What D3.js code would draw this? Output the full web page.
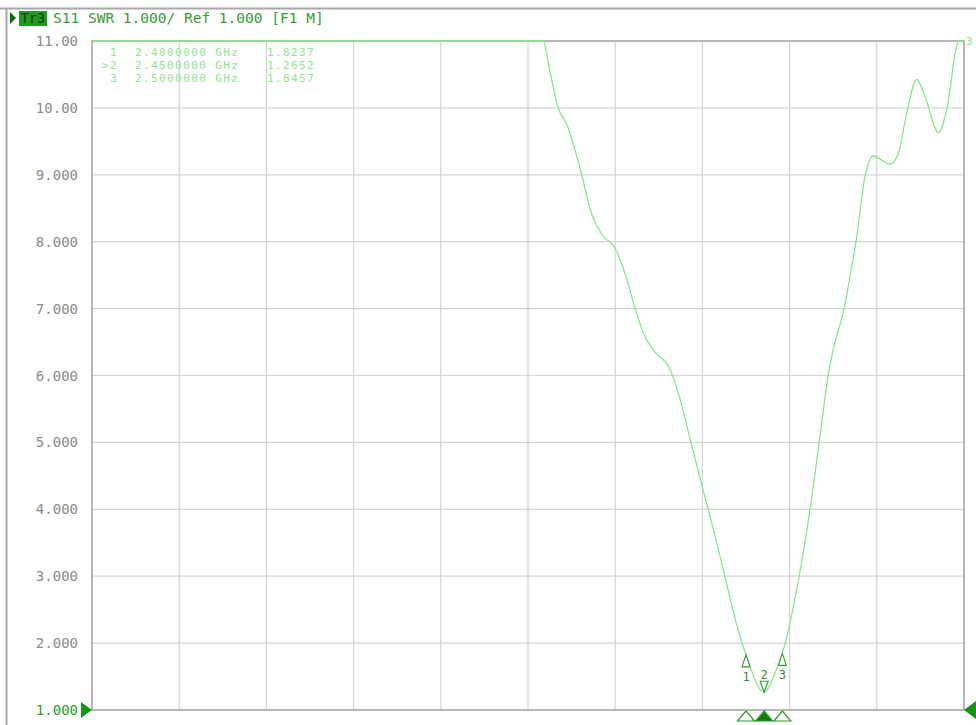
<!DOCTYPE html>
<html><head><meta charset="utf-8">
<script src="https://cdn.jsdelivr.net/npm/d3@7/dist/d3.min.js"></script>
<style>html,body{margin:0;padding:0;background:#fff;}svg{display:block;}</style>
</head><body>
<svg id="c" width="976" height="725"></svg>
<script>
// ---- data ----
const freqGHz = [0.6, 1.0, 1.5, 1.8413, 1.8606, 1.8826, 1.9073, 1.9431, 1.9762, 2.0037, 2.0395, 2.0725, 2.0945, 2.1174, 2.1449, 2.1917, 2.2192, 2.2468, 2.2798, 2.3156, 2.3422, 2.3761, 2.4, 2.45, 2.4798, 2.5, 2.5459, 2.5762, 2.6014, 2.6262, 2.6367, 2.6697, 2.6863, 2.7028, 2.7275, 2.7504, 2.7963, 2.8193, 2.8423, 2.8698, 2.8927, 2.9293, 2.9523, 2.9843, 2.99, 3.0];
const swr     = [11, 11, 11, 11, 10.54, 10.01, 9.744, 9.102, 8.399, 8.10, 7.906, 7.427, 7.009, 6.635, 6.381, 6.082, 5.634, 5.036, 4.333, 3.586, 2.988, 2.241, 1.8237, 1.2652, 1.553, 1.8457, 2.988, 4.0, 5.0, 6.0, 6.306, 7.0, 7.48, 8.0, 8.972, 9.281, 9.161, 9.32, 9.919, 10.427, 10.17, 9.63, 9.969, 10.99, 11, 11];
const yTicks = [11, 10, 9, 8, 7, 6, 5, 4, 3, 2, 1];
const yTickLabels = ["11.00", "10.00", "9.000", "8.000", "7.000", "6.000", "5.000", "4.000", "3.000", "2.000", "1.000"];
const markerIds = ["1", ">2", "3"];
const markerFreq = [2.40, 2.45, 2.50];
const markerFreqLabels = ["2.4000000 GHz", "2.4500000 GHz", "2.5000000 GHz"];
const markerSwr = [1.8237, 1.2652, 1.8457];
const markerSwrLabels = ["1.8237", "1.2652", "1.8457"];
const titleText = "S11 SWR 1.000/ Ref 1.000 [F1 M]";
const xStart = 0.6, xStop = 3.0, xDivisions = 10;

// ---- layout ----
const L = 92, R = 964, T = 41, B = 710;
const svg = d3.select("#c");
const x = d3.scaleLinear().domain([xStart, xStop]).range([L, R]);
const y = d3.scaleLinear().domain([1, 11]).range([B, T]);
const mono = "'DejaVu Sans Mono', 'Liberation Mono', monospace";

// outer frame
svg.append("line").attr("x1", 0).attr("x2", 976).attr("y1", 8.5).attr("y2", 8.5).attr("stroke", "#a8a8a8").attr("stroke-width", 2);
svg.append("line").attr("x1", 6.5).attr("x2", 6.5).attr("y1", 8).attr("y2", 725).attr("stroke", "#a8a8a8").attr("stroke-width", 2);

// title
svg.append("path").attr("d", "M10,12 L16,18 L10,24 Z").attr("fill", "#0b6b0b");
svg.append("rect").attr("x", 19).attr("y", 11).attr("width", 28).attr("height", 15).attr("fill", "#1f9a1f");
svg.append("text").attr("x", 33).attr("y", 23).attr("text-anchor", "middle").attr("font-family", mono).attr("font-size", 13.5).attr("fill", "#0a3f0a").text("Tr3");
svg.append("text").attr("x", 53).attr("y", 23).attr("font-family", mono).attr("font-size", 14.5).attr("fill", "#3a9a3a").text(titleText);

// grid
const xGrid = d3.range(1, xDivisions).map(i => xStart + i * (xStop - xStart) / xDivisions);
svg.append("g").selectAll("line").data(xGrid).join("line")
  .attr("x1", d => x(d)).attr("x2", d => x(d)).attr("y1", T).attr("y2", B)
  .attr("stroke", "#d4d4d4").attr("stroke-width", 1.2);
svg.append("g").selectAll("line").data(yTicks.slice(1, -1)).join("line")
  .attr("x1", L).attr("x2", R).attr("y1", d => y(d)).attr("y2", d => y(d))
  .attr("stroke", "#d4d4d4").attr("stroke-width", 1.2);

// plot frame
svg.append("rect").attr("x", L).attr("y", T).attr("width", R - L).attr("height", B - T)
  .attr("fill", "none").attr("stroke", "#a0a0a0").attr("stroke-width", 1.5);

// y labels
svg.append("g").selectAll("text").data(yTicks).join("text")
  .attr("x", 78).attr("y", d => y(d) + 5).attr("text-anchor", "end")
  .attr("font-family", mono).attr("font-size", 14)
  .attr("fill", (d, i) => i === yTicks.length - 1 ? "#2e9a2e" : "#8a8a8a")
  .text((d, i) => yTickLabels[i]);

// reference triangles
svg.append("path").attr("d", `M${L - 11},${B - 8} L${L},${B} L${L - 11},${B + 8} Z`).attr("fill", "#149614");
svg.append("path").attr("d", `M${R + 12},${B - 9} L${R},${B} L${R + 12},${B + 9} Z`).attr("fill", "#149614");

// trace
svg.append("clipPath").attr("id", "clip").append("rect").attr("x", L).attr("y", T - 1).attr("width", R - L).attr("height", B - T + 1);
const line = d3.line().x(d => x(d[0])).y(d => y(d[1])).curve(d3.curveMonotoneX);
svg.append("path").datum(freqGHz.map((f, i) => [f, swr[i]]))
  .attr("d", line).attr("clip-path", "url(#clip)")
  .attr("fill", "none").attr("stroke", "#86e886").attr("stroke-width", 1.3);
svg.append("text").attr("x", 966).attr("y", 45).attr("font-family", mono).attr("font-size", 11).attr("fill", "#86e886").text("3");

// marker table
const tbl = svg.append("g").attr("font-family", mono).attr("font-size", 11).attr("letter-spacing", 1.4).attr("fill", "#8fe48f");
markerIds.forEach((id, i) => {
  const yy = 56 + i * 13;
  tbl.append("text").attr("x", 118).attr("y", yy).attr("text-anchor", "end").text(id);
  tbl.append("text").attr("x", 135).attr("y", yy).text(markerFreqLabels[i]);
  tbl.append("text").attr("x", 267).attr("y", yy).text(markerSwrLabels[i]);
});

// markers on trace
const mk = svg.append("g");
markerFreq.forEach((f, i) => {
  const mx = x(f), my = y(markerSwr[i]);
  const active = i === 1;
  const label = markerIds[i].replace(">", "");
  if (active) {
    mk.append("path").attr("d", `M${mx - 4},${my - 11} L${mx + 4},${my - 11} L${mx},${my} Z`)
      .attr("fill", "#fff").attr("stroke", "#3c9a3c").attr("stroke-width", 1.2);
    mk.append("text").attr("x", mx).attr("y", my - 13).attr("text-anchor", "middle")
      .attr("font-family", mono).attr("font-size", 12).attr("fill", "#3c8a3c").text(label);
  } else {
    mk.append("path").attr("d", `M${mx - 4},${my + 12} L${mx + 4},${my + 12} L${mx},${my} Z`)
      .attr("fill", "#fff").attr("stroke", "#3c9a3c").attr("stroke-width", 1.2);
    mk.append("text").attr("x", mx).attr("y", my + 26).attr("text-anchor", "middle")
      .attr("font-family", mono).attr("font-size", 12).attr("fill", "#3c8a3c").text(label);
  }
  // bottom position markers
  svg.append("path").attr("d", `M${mx - 8.5},${B + 11} L${mx + 8.5},${B + 11} L${mx},${B + 1} Z`)
    .attr("fill", active ? "#137a13" : "#fff").attr("stroke", "#2e9a2e").attr("stroke-width", 1.2);
});
</script>
</body></html>
